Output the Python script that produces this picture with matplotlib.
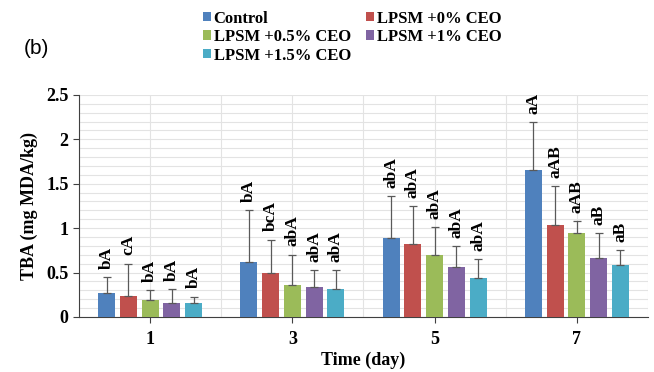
import numpy as np
import matplotlib.pyplot as plt
from matplotlib.ticker import MultipleLocator

days = ['1', '3', '5', '7']
groups = ['Control', 'LPSM +0% CEO', 'LPSM +0.5% CEO', 'LPSM +1% CEO', 'LPSM +1.5% CEO']
colors = ['#4F81BD', '#C0504D', '#9BBB59', '#8064A2', '#4BACC6']

# mean TBA per group, one entry per day
control = [0.27, 0.62, 0.89, 1.65]
lpsm0 = [0.24, 0.50, 0.82, 1.04]
lpsm05 = [0.19, 0.36, 0.70, 0.94]
lpsm1 = [0.16, 0.34, 0.56, 0.66]
lpsm15 = [0.16, 0.31, 0.44, 0.58]

# upper end of error bars
control_err = [0.45, 1.20, 1.36, 2.19]
lpsm0_err = [0.60, 0.87, 1.25, 1.47]
lpsm05_err = [0.30, 0.70, 1.01, 1.08]
lpsm1_err = [0.31, 0.53, 0.80, 0.94]
lpsm15_err = [0.23, 0.53, 0.65, 0.75]

control_lab = ['bA', 'bA', 'abA', 'aA']
lpsm0_lab = ['cA', 'bcA', 'abA', 'aAB']
lpsm05_lab = ['bA', 'abA', 'abA', 'aAB']
lpsm1_lab = ['bA', 'abA', 'abA', 'aB']
lpsm15_lab = ['bA', 'abA', 'abA', 'aB']

means = [control, lpsm0, lpsm05, lpsm1, lpsm15]
tops = [control_err, lpsm0_err, lpsm05_err, lpsm1_err, lpsm15_err]
labels = [control_lab, lpsm0_lab, lpsm05_lab, lpsm1_lab, lpsm15_lab]

plt.rcParams['font.family'] = ['Liberation Serif', 'DejaVu Serif']

fig = plt.figure(figsize=(6.54, 3.72), dpi=100)
ax = fig.add_axes([0.1208, 0.148, 0.870, 0.597])

x = np.arange(len(days))
step = 0.153
width = 0.12
handles = []
for i, (m, t, lab, c) in enumerate(zip(means, tops, labels, colors)):
    pos = x + (i - 2) * step
    m = np.array(m)
    err = np.array(t) - m
    b = ax.bar(pos, m, width, color=c, label=groups[i], zorder=3,
               yerr=[np.zeros_like(err), err], capsize=3,
               error_kw=dict(ecolor='#595959', elinewidth=0.9, capthick=0.9, zorder=4))
    handles.append(b)
    for p, tt, s in zip(pos, t, lab):
        ax.annotate(s, (p, tt), xytext=(0, 6), textcoords='offset points',
                    rotation=90, ha='center', va='bottom', fontsize=12.5,
                    fontweight='bold')

ax.set_xlim(-0.5, len(days) - 0.5)
ax.set_ylim(0, 2.5)
ax.yaxis.set_major_locator(MultipleLocator(0.5))
ax.yaxis.set_minor_locator(MultipleLocator(0.1))
ax.set_yticks([0, 0.5, 1, 1.5, 2, 2.5], ['0', '0.5', '1', '1.5', '2', '2.5'])
ax.set_xticks(x, days)
ax.set_xticks(np.arange(len(days) + 1) - 0.5, minor=True)
ax.tick_params(axis='x', which='minor', length=0)
ax.tick_params(axis='y', which='minor', length=0)
ax.tick_params(axis='both', which='major', labelsize=13, length=4, color='#404040')
ax.tick_params(axis='x', which='major', pad=6)
for lbl in ax.get_xticklabels() + ax.get_yticklabels():
    lbl.set_fontweight('bold')

ax.grid(True, which='both', color='#e3e3e3', linewidth=0.8, zorder=0)
ax.set_axisbelow(True)
for s in ['top', 'right']:
    ax.spines[s].set_visible(False)
ax.spines['left'].set_color('#404040')
ax.spines['bottom'].set_color('#404040')

ax.set_ylabel('TBA (mg MDA/kg)', fontsize=13, fontweight='bold', labelpad=6)
ax.set_xlabel('Time (day)', fontsize=13, fontweight='bold', labelpad=3)

order = [0, 2, 4, 1, 3]
fig.legend([handles[k] for k in order], [groups[k] for k in order],
           loc='upper left', bbox_to_anchor=(0.287, 1.012), ncol=2, frameon=False,
           handlelength=0.5, handleheight=0.5, handletextpad=0.15,
           columnspacing=0.9, labelspacing=0.15,
           prop=dict(family='Liberation Serif', weight='bold', size=12))

fig.text(0.036, 0.855, '(b)', fontsize=15, family='Liberation Sans')

fig.savefig('out.png', dpi=100)
